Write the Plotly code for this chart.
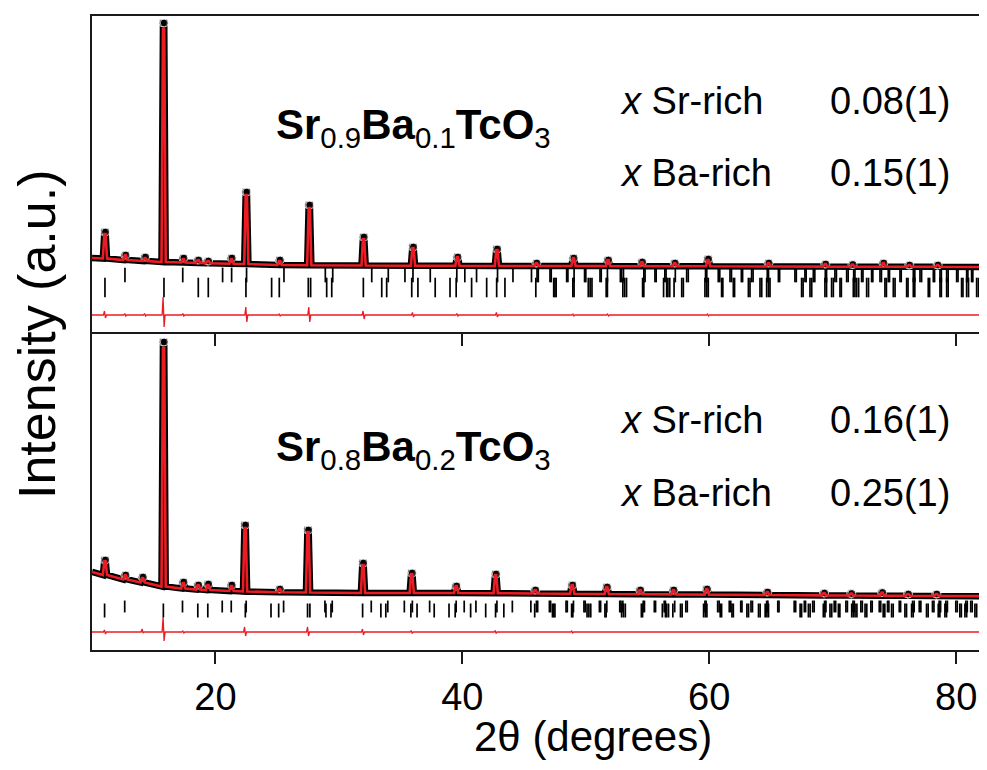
import plotly.graph_objects as go

# ---------------- data ----------------
# Top panel: Sr0.9Ba0.1TcO3  (intensity in arbitrary units)
top_bg_tth = [10.0, 82.6]
top_bg_I = [74.0, 65.0]
top_peak_tth = [11.05, 12.7, 14.3, 15.8, 17.4, 18.6, 19.4, 21.3, 22.5, 25.2, 27.6, 32.0, 36.0,
                39.6, 42.8, 46.0, 49.0, 51.8, 54.55, 57.2, 59.9, 64.8, 69.4, 71.6, 74.1, 76.2, 78.5]
top_peak_base = [73.5, 72, 71, 70, 69.5, 69, 68.8, 68.3, 68, 67, 66.8, 66.5, 66.3,
                 66.2, 66, 66, 66, 65.9, 65.8, 65.7, 65.7, 65.5, 65.4, 65.3, 65.3, 65.2, 65.2]
top_peak_obs = [100, 77, 75, 309, 74, 72, 71, 74, 140, 72, 127, 95, 85,
                75, 83, 69, 74, 72, 70, 69, 73, 69, 68, 67.5, 69, 67, 67]
top_peak_calc = [98, 77, 74, 303, 73, 72, 71, 73, 137, 71, 124, 93, 84,
                 75, 82, 69, 74, 72, 70, 69, 72, 69, 68, 67.5, 69, 67, 67]
top_diff_level = 17
top_diff_tth = [11.05, 12.7, 14.3, 15.8, 17.4, 22.5, 25.2, 27.6, 32.0, 36.0, 39.6, 42.8, 49.0, 51.8, 59.9]
top_diff_up = [4, 1.5, 1.5, 18, 1.5, 8, 1, 8, 4, 2.5, 1.5, 2.5, 1, 1, 1]
top_diff_down = [3, 1, 1, 12, 1, 7, 1, 7, 4, 2, 1, 2, 1, 1, 1]
top_ticks_sr = [12.67, 17.35, 20.58, 21.31, 22.52, 25.55, 28.9, 29.5, 32.66, 34.0, 35.35, 36.0, 37.4,
                39.55, 40.2, 41.15, 42.85, 44.1, 45.6, 46.05, 46.15, 47.1, 47.2, 48.45, 48.55, 49.05,
                49.9, 50.0, 51.15, 51.25, 51.75, 52.8, 52.9, 53.05, 54.7, 54.8, 55.6, 55.7, 56.4, 56.5,
                57.25, 58.17, 58.3, 59.7, 59.8, 60.73, 60.85, 61.68, 61.8, 62.6, 62.7, 63.43, 63.55,
                64.7, 64.8, 65.6, 65.7, 66.94, 67.05, 67.75, 67.85, 68.43, 68.55, 69.4, 69.5, 70.18,
                70.3, 71.13, 71.25, 71.7, 71.8, 72.34, 72.45, 73.15, 73.25, 73.83, 73.95, 74.5, 74.6,
                75.45, 75.55, 76.53, 76.65, 77.07, 77.2, 78.15, 78.25, 78.69, 78.8, 79.23, 79.35,
                80.04, 80.15, 80.85, 80.95, 81.25, 81.35, 82.06, 82.15]
top_ticks_ba = [11.05, 15.83, 18.61, 19.42, 22.47, 24.55, 25.17, 27.52, 27.71, 29.01, 29.42, 31.98,
                33.47, 33.87, 35.9, 36.4, 37.8, 39.0, 39.5, 40.75, 41.97, 42.78, 43.45, 45.95, 47.4,
                47.5, 47.6, 48.95, 49.05, 50.2, 50.35, 50.5, 51.65, 51.75, 53.0, 53.15, 53.3, 54.6,
                54.7, 56.3, 56.55, 56.65, 56.8, 57.15, 57.77, 57.9, 59.65, 59.8, 59.92, 61.0, 61.1,
                61.95, 62.05, 63.17, 63.3, 64.11, 64.25, 64.65, 64.8, 64.92, 67.48, 67.6, 68.16, 68.3,
                69.37, 69.5, 69.91, 70.05, 70.59, 70.7, 71.67, 71.8, 71.94, 72.1, 72.75, 72.9, 74.23,
                74.35, 74.91, 75.05, 75.99, 76.1, 76.53, 76.65, 77.74, 77.85, 78.69, 78.8, 79.23,
                79.35, 80.44, 80.55, 80.85, 81.0, 81.66, 81.8, 82.33, 82.45]

# Bottom panel: Sr0.8Ba0.2TcO3
bot_bg_tth = [10.0, 82.6]
bot_bg_I = [78.0, 53.8]
bot_peak_tth = [11.05, 12.7, 14.1, 15.8, 17.4, 18.6, 19.4, 21.3, 22.4, 25.2, 27.5, 31.95, 35.9,
                39.5, 42.7, 45.9, 48.9, 51.7, 54.4, 57.1, 59.8, 64.7, 69.3, 71.5, 74.0, 76.1, 78.4]
bot_peak_base = [75, 70.5, 67.5, 63.5, 61.5, 60.5, 60, 59, 58.5, 57.8, 57.5, 57, 57,
                 57, 56.8, 56.5, 56.3, 56, 55.8, 55.6, 55.4, 55, 54.6, 54.5, 54.3, 54.2, 54]
bot_peak_obs = [90, 75, 73, 308, 68, 65, 66, 65, 125, 61, 120, 87, 77,
                64, 76, 60, 65, 63, 60, 60, 61, 58, 57, 56.5, 57.5, 56, 56]
bot_peak_calc = [89, 75, 72, 302, 67, 65, 65, 64, 122, 61, 118, 85, 76,
                 64, 75, 60, 65, 63, 60, 60, 61, 58, 57, 56.5, 57.5, 56, 56]
bot_diff_level = 18
bot_diff_tth = [11.05, 14.1, 15.8, 17.4, 22.4, 27.5, 31.95, 35.9, 42.7, 48.9]
bot_diff_up = [2, 3, 15, 1, 5, 5, 3, 1.5, 1.5, 1]
bot_diff_down = [2, 1, 9, 1, 4, 4, 3, 1.5, 1.5, 1]
bot_ticks_sr = [12.65, 17.33, 20.55, 21.28, 22.49, 25.52, 28.87, 29.46, 32.62, 33.96, 35.3, 35.95,
                37.35, 39.5, 40.15, 41.1, 42.8, 44.05, 45.55, 46.0, 46.1, 47.05, 47.15, 48.4, 48.5,
                49.0, 49.85, 49.95, 51.1, 51.2, 51.7, 52.75, 52.85, 53.0, 54.65, 54.75, 55.55, 55.65,
                56.35, 56.45, 57.2, 58.1, 58.22, 59.65, 59.75, 60.68, 60.8, 61.62, 61.74, 62.55, 62.65,
                63.38, 63.5, 64.65, 64.75, 65.55, 65.65, 66.88, 67.0, 67.7, 67.8, 68.38, 68.5, 69.34,
                69.45, 70.12, 70.24, 71.07, 71.19, 71.64, 71.75, 72.28, 72.4, 73.09, 73.2, 73.77,
                73.89, 74.44, 74.55, 75.39, 75.5, 76.47, 76.6, 77.01, 77.14, 78.08, 78.2, 78.62, 78.74,
                79.16, 79.29, 79.97, 80.09, 80.78, 80.9, 81.18, 81.3, 81.99, 82.1]
bot_ticks_ba = [11.02, 15.78, 18.57, 19.38, 22.42, 24.5, 25.12, 27.46, 27.65, 28.95, 29.36, 31.92,
                33.4, 33.8, 35.83, 36.33, 37.72, 38.92, 39.42, 40.67, 41.89, 42.69, 43.36, 45.86,
                47.3, 47.4, 47.5, 48.85, 48.95, 50.1, 50.25, 50.4, 51.55, 51.65, 52.9, 53.05, 53.2,
                54.5, 54.6, 56.2, 56.45, 56.55, 56.7, 57.05, 57.67, 57.8, 59.54, 59.68, 59.81, 60.89,
                61.0, 61.84, 61.95, 63.05, 63.18, 63.99, 64.12, 64.53, 64.67, 64.8, 67.36, 67.48,
                68.03, 68.17, 69.24, 69.37, 69.78, 69.92, 70.46, 70.58, 71.54, 71.67, 71.81, 71.96,
                72.62, 72.76, 74.09, 74.22, 74.77, 74.9, 75.85, 75.98, 76.39, 76.52, 77.6, 77.73,
                78.55, 78.68, 79.09, 79.22, 80.3, 80.42, 80.71, 80.85, 81.52, 81.66, 82.19, 82.32]

x_ticks = [20, 40, 60, 80]
x_range = [10, 81.85]

FONT = "Liberation Sans, Arial, sans-serif"
RED = "#ec1c24"


def profile(bg_tth, bg_I, tth, base, top, hw=0.17, ht=0.05):
    xs, ys, sz = [bg_tth[0]], [bg_I[0]], [0]
    for t, b, h in zip(tth, base, top):
        xs += [t - hw, t - ht, t + ht, t + hw]
        ys += [b, h, h, b]
        sz += [0, 8, 8, 0]
    xs.append(bg_tth[1])
    ys.append(bg_I[1])
    sz.append(0)
    return xs, ys, sz


def diff_curve(bg_tth, level, tth, up, down, hw=0.12, ht=0.04):
    xs, ys = [bg_tth[0]], [level]
    for t, u, d in zip(tth, up, down):
        xs += [t - hw, t - ht, t + ht, t + hw]
        ys += [level, level + u, level - d, level]
    xs.append(bg_tth[1])
    ys.append(level)
    return xs, ys


fig = go.Figure()

panels = [
    dict(xa="x2", ya="y2", bg_tth=top_bg_tth, bg_I=top_bg_I, tth=top_peak_tth, base=top_peak_base,
         obs=top_peak_obs, calc=top_peak_calc, dl=top_diff_level, dt=top_diff_tth, du=top_diff_up,
         dd=top_diff_down, tsr=top_ticks_sr, tba=top_ticks_ba, ysr=57, yba=44.5, ssr=10.5, sba=14),
    dict(xa="x", ya="y", bg_tth=bot_bg_tth, bg_I=bot_bg_I, tth=bot_peak_tth, base=bot_peak_base,
         obs=bot_peak_obs, calc=bot_peak_calc, dl=bot_diff_level, dt=bot_diff_tth, du=bot_diff_up,
         dd=bot_diff_down, tsr=bot_ticks_sr, tba=bot_ticks_ba, ysr=43.5, yba=39.5, ssr=8.5, sba=10),
]

for p in panels:
    # Bragg reflection markers
    for xs, yv, sz in ((p["tsr"], p["ysr"], p["ssr"]), (p["tba"], p["yba"], p["sba"])):
        fig.add_trace(go.Scatter(x=xs, y=[yv] * len(xs), xaxis=p["xa"], yaxis=p["ya"],
                                 mode="markers",
                                 marker=dict(symbol="line-ns-open", size=sz, color="black",
                                             line=dict(color="black", width=1.7)),
                                 showlegend=False, hoverinfo="x"))
    # difference curve
    dx, dy = diff_curve(p["bg_tth"], p["dl"], p["dt"], p["du"], p["dd"])
    fig.add_trace(go.Scatter(x=dx, y=dy, xaxis=p["xa"], yaxis=p["ya"], mode="lines",
                             line=dict(color=RED, width=1.3), showlegend=False))
    # observed
    ox, oy, osz = profile(p["bg_tth"], p["bg_I"], p["tth"], p["base"], p["obs"])
    fig.add_trace(go.Scatter(x=ox, y=oy, xaxis=p["xa"], yaxis=p["ya"], mode="lines+markers",
                             line=dict(color="black", width=6.5),
                             marker=dict(color="black", size=osz), showlegend=False))
    # calculated
    cx, cy, _ = profile(p["bg_tth"], p["bg_I"], p["tth"], p["base"], p["calc"])
    fig.add_trace(go.Scatter(x=cx, y=cy, xaxis=p["xa"], yaxis=p["ya"], mode="lines",
                             line=dict(color=RED, width=2.6), showlegend=False))

split = (650 - 332) / 634

axis_common = dict(showgrid=False, zeroline=False, showline=True, linecolor="#1a1a1a", linewidth=2)

# The page body adds an 8px margin all round; the figure (971x754) fills the
# 987x770 page so the plot area sits at x 92..979 and y 16..650.
PW = 887.0   # plot-area width in px
fig.update_layout(
    width=971, height=754,
    margin=dict(l=84, r=0, t=8, b=112),
    paper_bgcolor="white", plot_bgcolor="white",
    font=dict(family=FONT, color="black"),
    xaxis=dict(domain=[0, 1], range=x_range, anchor="y", tickvals=x_ticks,
               ticks="outside", ticklen=12, tickwidth=2, tickcolor="#1a1a1a",
               tickfont=dict(size=38, family=FONT, color="black"), **axis_common),
    xaxis2=dict(domain=[0, 1], range=x_range, anchor="y2", matches="x", tickvals=x_ticks,
                ticks="outside", ticklen=12, tickwidth=2, tickcolor="#1a1a1a",
                showticklabels=False, mirror=True, **axis_common),
    yaxis=dict(domain=[0, split], range=[0, 318], anchor="x", showticklabels=False, ticks="",
               **axis_common),
    yaxis2=dict(domain=[split, 1], range=[0, 316], anchor="x2", showticklabels=False, ticks="",
                **axis_common),
)


def px_x(px):
    return (px - 92) / PW


def px_y(py):
    return (650 - py) / 634


ann = []
ann.append(dict(text="Intensity (a.u.)", x=px_x(37), y=px_y(335), xref="paper",
                yref="paper", textangle=-90, showarrow=False, xanchor="center", yanchor="middle",
                font=dict(size=52, family=FONT)))
ann.append(dict(text="2θ (degrees)", x=px_x(593), y=px_y(736), xref="paper",
                yref="paper", showarrow=False, xanchor="center", yanchor="middle",
                font=dict(size=42, family=FONT)))

labels = [
    ("<b>Sr</b><sub>0.9</sub><b>Ba</b><sub>0.1</sub><b>TcO</b><sub>3</sub>", 274, 127),
    ("<b>Sr</b><sub>0.8</sub><b>Ba</b><sub>0.2</sub><b>TcO</b><sub>3</sub>", 274, 449),
]
for t, px, py in labels:
    ann.append(dict(text=t, x=px_x(px), y=px_y(py), xref="paper", yref="paper",
                    showarrow=False, xanchor="left", yanchor="middle", font=dict(size=42, family=FONT)))

frac_rows = [
    ("<i>x</i> Sr-rich", "0.08(1)", 101),
    ("<i>x</i> Ba-rich", "0.15(1)", 173),
    ("<i>x</i> Sr-rich", "0.16(1)", 420),
    ("<i>x</i> Ba-rich", "0.25(1)", 493),
]
for lab, val, py in frac_rows:
    ann.append(dict(text=lab, x=px_x(618), y=px_y(py), xref="paper", yref="paper",
                    showarrow=False, xanchor="left", yanchor="middle", font=dict(size=38, family=FONT)))
    ann.append(dict(text=val, x=px_x(828), y=px_y(py), xref="paper", yref="paper",
                    showarrow=False, xanchor="left", yanchor="middle", font=dict(size=38, family=FONT)))

fig.update_layout(annotations=ann)

fig.write_html("out.html")
